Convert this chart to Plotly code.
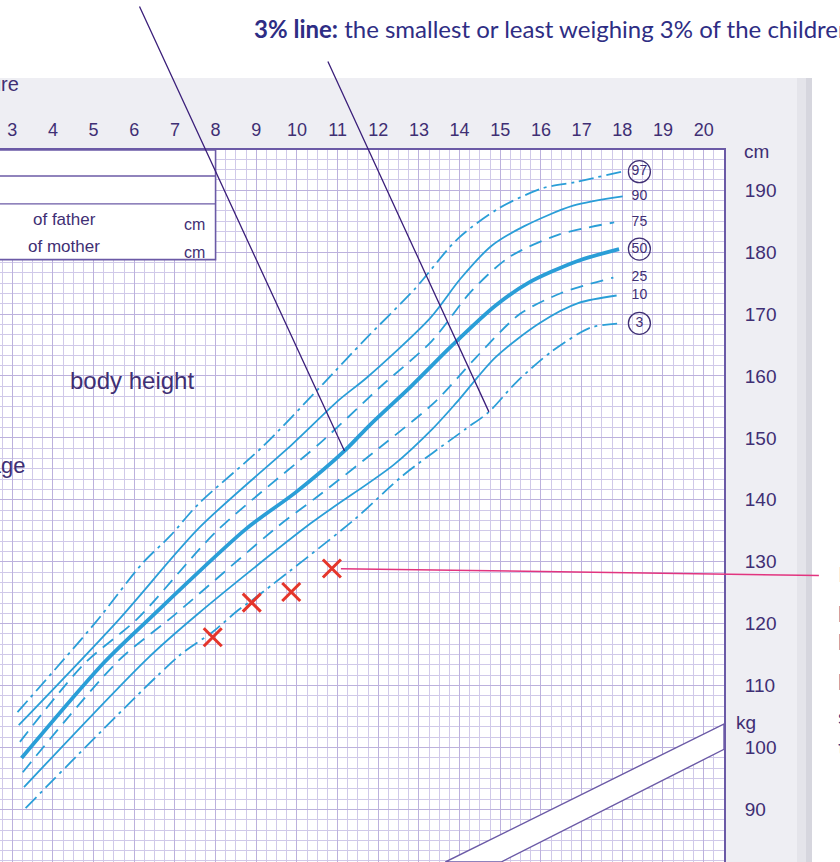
import plotly.graph_objects as go

# ---------------- data (age in years, body height in cm) ----------------
age_p97 = [3.13, 5.05, 6.21, 6.89, 7.56, 9.16, 10.64, 11.66, 12.89, 13.96, 14.97, 16.03, 16.83, 17.98]
h_p97 = [105.7, 120.2, 129.8, 134.2, 139.2, 148.6, 158.7, 165.8, 174.0, 182.2, 187.1, 190.3, 191.3, 193.0]
age_p90 = [3.16, 5.60, 7.60, 9.89, 11.03, 11.73, 13.27, 14.02, 14.78, 15.59, 16.79, 18.01]
h_p90 = [103.6, 120.5, 135.5, 149.0, 156.1, 159.8, 169.3, 175.7, 181.0, 184.2, 187.5, 189.0]
age_p75 = [3.19, 4.77, 6.08, 8.02, 10.61, 12.06, 13.31, 14.29, 15.22, 16.42, 17.80]
h_p75 = [100.9, 113.5, 120.8, 134.9, 149.4, 158.3, 165.6, 173.7, 179.2, 182.8, 184.8]
age_p50 = [3.23, 5.27, 6.39, 8.75, 9.97, 11.17, 11.81, 12.80, 13.81, 14.87, 15.68, 16.87, 17.92]
h_p50 = [98.3, 113.8, 120.9, 135.3, 141.2, 147.9, 152.2, 158.3, 164.9, 171.3, 175.0, 178.5, 180.5]
age_p25 = [3.26, 5.61, 6.97, 9.55, 10.54, 12.16, 13.41, 14.39, 15.48, 16.50, 17.78]
h_p25 = [96.0, 114.0, 121.3, 135.8, 140.7, 149.1, 155.9, 162.9, 170.0, 173.4, 175.9]
age_p10 = [3.29, 6.33, 7.57, 10.34, 12.37, 13.34, 13.91, 14.88, 15.98, 16.93, 17.86]
h_p10 = [93.6, 114.4, 121.6, 136.2, 145.6, 151.5, 155.6, 163.0, 168.6, 171.8, 173.0]
age_p3 = [3.33, 7.12, 7.92, 8.56, 8.88, 11.41, 12.62, 14.14, 14.72, 15.41, 16.27, 17.22, 17.95]
h_p3 = [90.2, 114.9, 118.6, 122.2, 123.7, 136.8, 144.0, 151.4, 154.2, 159.1, 164.0, 167.8, 168.5]

child_age = [7.93, 8.89, 9.86, 10.86]
child_height = [117.8, 123.4, 125.1, 128.9]

percentile_names = ["97", "90", "75", "50", "25", "10", "3"]
circled = ["97", "50", "3"]

age_ticks = list(range(2, 21))
height_ticks = list(range(90, 200, 10))

# family-data box rows (cm) and the band that separates the weight chart
box_rows = [196.5, 192.3, 187.8, 178.8]
band_age = [13.65, 20.5, 20.5, 15.02]
band_h = [81.5, 103.8, 99.7, 81.5]

# ---------------- styling ----------------
BLUE = "#2a9ed7"
PURPLE = "#3f2f74"
GRID_MINOR = "#d0c9e9"
GRID_MAJOR = "#bcb1dd"
EDGE = "#6b5aa6"
X_RANGE = [2.7, 20.5]
Y_RANGE = [81.5, 196.5]
W, H = 840, 862
ML, MR, MT, MB = 0, 116, 150, 0
PW, PH = W - ML - MR, H - MT - MB

def px(xpix):
    return (xpix - ML) / PW

def py(ypix):
    return (H - MB - ypix) / PH

series = {
    "97": (age_p97, h_p97, dict(width=1.8, dash="15px,5px,3px,5px")),
    "90": (age_p90, h_p90, dict(width=1.8, dash="solid")),
    "75": (age_p75, h_p75, dict(width=1.8, dash="13px,8px")),
    "50": (age_p50, h_p50, dict(width=3.8, dash="solid")),
    "25": (age_p25, h_p25, dict(width=1.8, dash="13px,8px")),
    "10": (age_p10, h_p10, dict(width=1.8, dash="solid")),
    "3": (age_p3, h_p3, dict(width=1.8, dash="15px,5px,3px,5px")),
}

fig = go.Figure()
for name in percentile_names:
    xs, ys, st = series[name]
    fig.add_trace(go.Scatter(x=xs, y=ys, mode="lines", name=name,
                             line=dict(color=BLUE, shape="spline", smoothing=0.8, **st),
                             hoverinfo="skip", showlegend=False))

# percentile labels at the end of each curve
label_x = [18.42] * len(percentile_names)
label_y = [series[n][1][-1] for n in percentile_names]
fig.add_trace(go.Scatter(x=label_x, y=label_y, mode="text", text=percentile_names,
                         textfont=dict(size=14, color=PURPLE, family="Liberation Sans"),
                         showlegend=False, hoverinfo="skip"))
fig.add_trace(go.Scatter(x=[18.42] * len(circled), y=[series[n][1][-1] for n in circled],
                         mode="markers",
                         marker=dict(symbol="circle-open", size=22, color=PURPLE,
                                     line=dict(width=1.3, color=PURPLE)),
                         showlegend=False, hoverinfo="skip"))

# the child's measurements
fig.add_trace(go.Scatter(x=child_age, y=child_height, mode="markers",
                         marker=dict(symbol="x-thin", size=18, color="#e5352b",
                                     line=dict(width=3, color="#e5352b")),
                         showlegend=False, hoverinfo="skip"))

shapes = []
# white band above the page, paper shadow and white strip on the right
shapes.append(dict(type="rect", xref="paper", yref="paper", x0=-0.1, x1=px(W + 20), y0=py(78), y1=py(-20),
                   fillcolor="white", line=dict(width=0), layer="below"))
shapes.append(dict(type="rect", xref="paper", yref="paper", x0=px(797), x1=px(806), y0=py(H + 10), y1=py(78),
                   fillcolor="#e4e4ea", line=dict(width=0), layer="below"))
shapes.append(dict(type="rect", xref="paper", yref="paper", x0=px(806), x1=px(812), y0=py(H + 10), y1=py(78),
                   fillcolor="#d6d6de", line=dict(width=0), layer="below"))
shapes.append(dict(type="rect", xref="paper", yref="paper", x0=px(812), x1=px(W + 20), y0=py(H + 10), y1=py(78),
                   fillcolor="white", line=dict(width=0), layer="below"))
# family-data box
shapes.append(dict(type="rect", xref="x", yref="y", x0=1.5, x1=8, y0=box_rows[-1], y1=box_rows[0],
                   fillcolor="white", line=dict(color=EDGE, width=1.6), layer="above"))
for r in box_rows[1:-1]:
    shapes.append(dict(type="line", xref="x", yref="y", x0=1.5, x1=8, y0=r, y1=r,
                       line=dict(color=EDGE, width=1.4), layer="above"))
# band separating the weight chart
path = "M " + " L ".join(f"{a},{b}" for a, b in zip(band_age, band_h)) + " Z"
shapes.append(dict(type="path", xref="x", yref="y", path=path, fillcolor="white",
                   line=dict(color=EDGE, width=1.4), layer="above"))

annotations = []
TXT = dict(family="Liberation Sans", color=PURPLE)
annotations.append(dict(xref="paper", yref="paper", x=px(252), y=py(29), xanchor="left", yanchor="middle",
                        text="<b>3% line:</b> the smallest or least weighing 3% of the children",
                        showarrow=False, font=dict(family="Lato", size=24, color="#2e2d84")))
annotations.append(dict(xref="paper", yref="paper", x=px(21), y=py(84), xanchor="right", yanchor="middle",
                        text="Measure", showarrow=False, font=dict(size=20, **TXT)))
annotations.append(dict(xref="paper", yref="paper", x=px(27), y=py(465), xanchor="right", yanchor="middle",
                        text="body height for age", showarrow=False, font=dict(size=22, **TXT)))
annotations.append(dict(xref="x", yref="y", x=5.95, y=159.2, xanchor="center", yanchor="middle",
                        text="body height", showarrow=False, font=dict(size=24, **TXT)))
annotations.append(dict(xref="x", yref="y", x=3.45, y=185.3, xanchor="left", yanchor="middle",
                        text="of father", showarrow=False, font=dict(size=17, **TXT)))
annotations.append(dict(xref="x", yref="y", x=3.35, y=180.9, xanchor="left", yanchor="middle",
                        text="of mother", showarrow=False, font=dict(size=17, **TXT)))
annotations.append(dict(xref="x", yref="y", x=7.8, y=184.4, xanchor="right", yanchor="middle",
                        text="cm", showarrow=False, font=dict(size=16, **TXT)))
annotations.append(dict(xref="x", yref="y", x=7.8, y=180.0, xanchor="right", yanchor="middle",
                        text="cm", showarrow=False, font=dict(size=16, **TXT)))
annotations.append(dict(xref="paper", yref="y", x=1 + 18 / PW, y=196.3, xanchor="left", yanchor="middle",
                        text="cm", showarrow=False, font=dict(size=19, **TXT)))
annotations.append(dict(xref="paper", yref="y", x=1 + 10 / PW, y=104.0, xanchor="left", yanchor="middle",
                        text="kg", showarrow=False, font=dict(size=19, **TXT)))
# pointer lines
annotations.append(dict(xref="x", yref="y", x=age_p50[5], y=h_p50[5], ax=-208, ay=-480, text=" ",
                        showarrow=True, arrowhead=0, arrowwidth=1.3, arrowcolor="#3b1f7a"))
annotations.append(dict(xref="x", yref="y", x=age_p3[8], y=h_p3[8], ax=-164, ay=-357, text=" ",
                        showarrow=True, arrowhead=0, arrowwidth=1.3, arrowcolor="#3b1f7a"))
annotations.append(dict(xref="x", yref="y", x=child_age[3], y=child_height[3], ax=490, ay=7, text=" ",
                        showarrow=True, arrowhead=0, arrowwidth=1.5, arrowcolor="#e2347f", standoff=9))
# explanatory text on the right, cut by the picture edge
side_lines = ["Lukas' measurements:", "his height lies", "below the 3% line,", "but he grows",
              "steadily along", "the curve."]
side_y = [573, 613, 641, 681, 715, 746]
for t, yy in zip(side_lines, side_y):
    annotations.append(dict(xref="paper", yref="paper", x=px(836), y=py(yy), xanchor="left",
                            yanchor="middle", text=t, showarrow=False,
                            font=dict(family="Lato", size=22, color="#2e2d84")))

fig.update_layout(
    width=W, height=H,
    margin=dict(l=ML, r=MR, t=MT, b=MB, pad=0, autoexpand=False),
    paper_bgcolor="#eeeef3", plot_bgcolor="white",
    shapes=shapes, annotations=annotations, showlegend=False,
    xaxis=dict(side="top", range=X_RANGE, tickvals=age_ticks, ticktext=[str(a) for a in age_ticks],
               automargin=False,
               showgrid=True, gridcolor=GRID_MAJOR, gridwidth=1,
               minor=dict(dtick=0.25, tick0=0, showgrid=True, gridcolor=GRID_MINOR, gridwidth=1),
               ticks="", ticklabelstandoff=5, zeroline=False,
               showline=True, linecolor=EDGE, linewidth=2,
               tickfont=dict(size=18, color=PURPLE, family="Liberation Sans")),
    yaxis=dict(side="right", range=Y_RANGE, tickvals=height_ticks, ticktext=[str(v) for v in height_ticks],
               automargin=False,
               showgrid=True, gridcolor=GRID_MAJOR, gridwidth=1,
               minor=dict(dtick=10 / 6, tick0=0, showgrid=True, gridcolor=GRID_MINOR, gridwidth=1),
               ticks="", ticklabelstandoff=15, zeroline=False,
               showline=True, linecolor=EDGE, linewidth=2,
               tickfont=dict(size=19, color=PURPLE, family="Liberation Sans")),
)

fig.write_html("out.html", config={"displayModeBar": False},
               post_script="document.body.style.margin='0px';")
